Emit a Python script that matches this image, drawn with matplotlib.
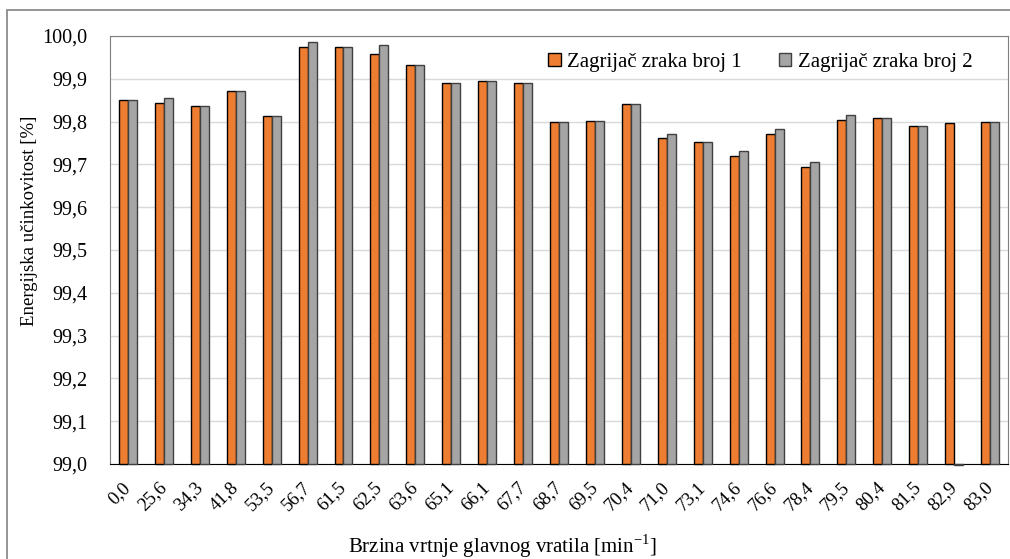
import matplotlib.pyplot as plt
from matplotlib.patches import Rectangle
from matplotlib.ticker import FuncFormatter
import numpy as np

plt.rcParams['font.family'] = ['Liberation Serif', 'DejaVu Serif']
plt.rcParams['mathtext.fontset'] = 'custom'
plt.rcParams['mathtext.rm'] = 'Liberation Serif'

cats = ['0,0', '25,6', '34,3', '41,8', '53,5', '56,7', '61,5', '62,5', '63,6', '65,1',
        '66,1', '67,7', '68,7', '69,5', '70,4', '71,0', '73,1', '74,6', '76,6', '78,4',
        '79,5', '80,4', '81,5', '82,9', '83,0']
heater1 = [99.851, 99.844, 99.836, 99.871, 99.812, 99.975, 99.975, 99.959, 99.933, 99.891,
           99.895, 99.891, 99.800, 99.801, 99.840, 99.761, 99.753, 99.720, 99.770, 99.694,
           99.803, 99.809, 99.790, 99.797, 99.800]
heater2 = [99.851, 99.854, 99.836, 99.871, 99.812, 99.986, 99.975, 99.980, 99.933, 99.891,
           99.895, 99.891, 99.800, 99.801, 99.840, 99.772, 99.753, 99.731, 99.783, 99.706,
           99.816, 99.809, 99.790, 98.997, 99.800]
names = ['Zagrijač zraka broj 1', 'Zagrijač zraka broj 2']

base = 99.0
x = np.arange(len(cats))
w = 0.25

fig = plt.figure(figsize=(10.1, 5.59), dpi=100)
ax = fig.add_axes([110 / 1010, 1 - 464 / 559, 898 / 1010, 428 / 559])

# outer chart frame
fig.patches.append(Rectangle((7 / 1010, -0.1), 1.2, 1 - 10 / 559 + 0.1,
                             transform=fig.transFigure, fill=False,
                             edgecolor='#8c8c8c', lw=1.3))

ax.bar(x - w / 2, np.array(heater1) - base, w, bottom=base, color='#ED7D31',
       edgecolor='black', lw=1, label=names[0], zorder=3, clip_on=False)
ax.bar(x + w / 2, np.array(heater2) - base, w, bottom=base, color='#A5A5A5',
       edgecolor='#404040', lw=1, label=names[1], zorder=3, clip_on=False)

ax.set_ylim(99.0, 100.0)
ax.set_xlim(-0.5, len(cats) - 0.5)
ax.set_yticks(np.arange(99.0, 100.01, 0.1))
ax.yaxis.set_major_formatter(FuncFormatter(lambda v, p: f'{v:.1f}'.replace('.', ',')))
ax.grid(axis='y', color='#d9d9d9', lw=1, zorder=0)
ax.set_axisbelow(True)

ax.set_xticks(x)
ax.set_xticklabels(cats, rotation=45, ha='right', va='center', rotation_mode='anchor',
                   fontsize=13.5)
ax.tick_params(axis='x', length=0, pad=15)
ax.tick_params(axis='y', length=0, pad=16, labelsize=14.5)

for s in ['left', 'top', 'right']:
    ax.spines[s].set_color('#7f7f7f')
ax.spines['bottom'].set_color('black')

fig.text(30 / 1010, 1 - 221 / 559, 'Energijska učinkovitost [%]', rotation=90,
         ha='center', va='center', fontsize=13.5)
fig.text(502 / 1010, 1 - 546 / 559, 'Brzina vrtnje glavnog vratila [min$^{\\mathrm{-1}}$]',
         ha='center', va='center', fontsize=15)

ax.legend(loc='center', bbox_to_anchor=(0.724, 0.939), ncol=2, frameon=False,
          fontsize=15, handlelength=0.6, handleheight=0.6, handletextpad=0.3,
          columnspacing=1.8)

fig.savefig('out.png', dpi=100)
